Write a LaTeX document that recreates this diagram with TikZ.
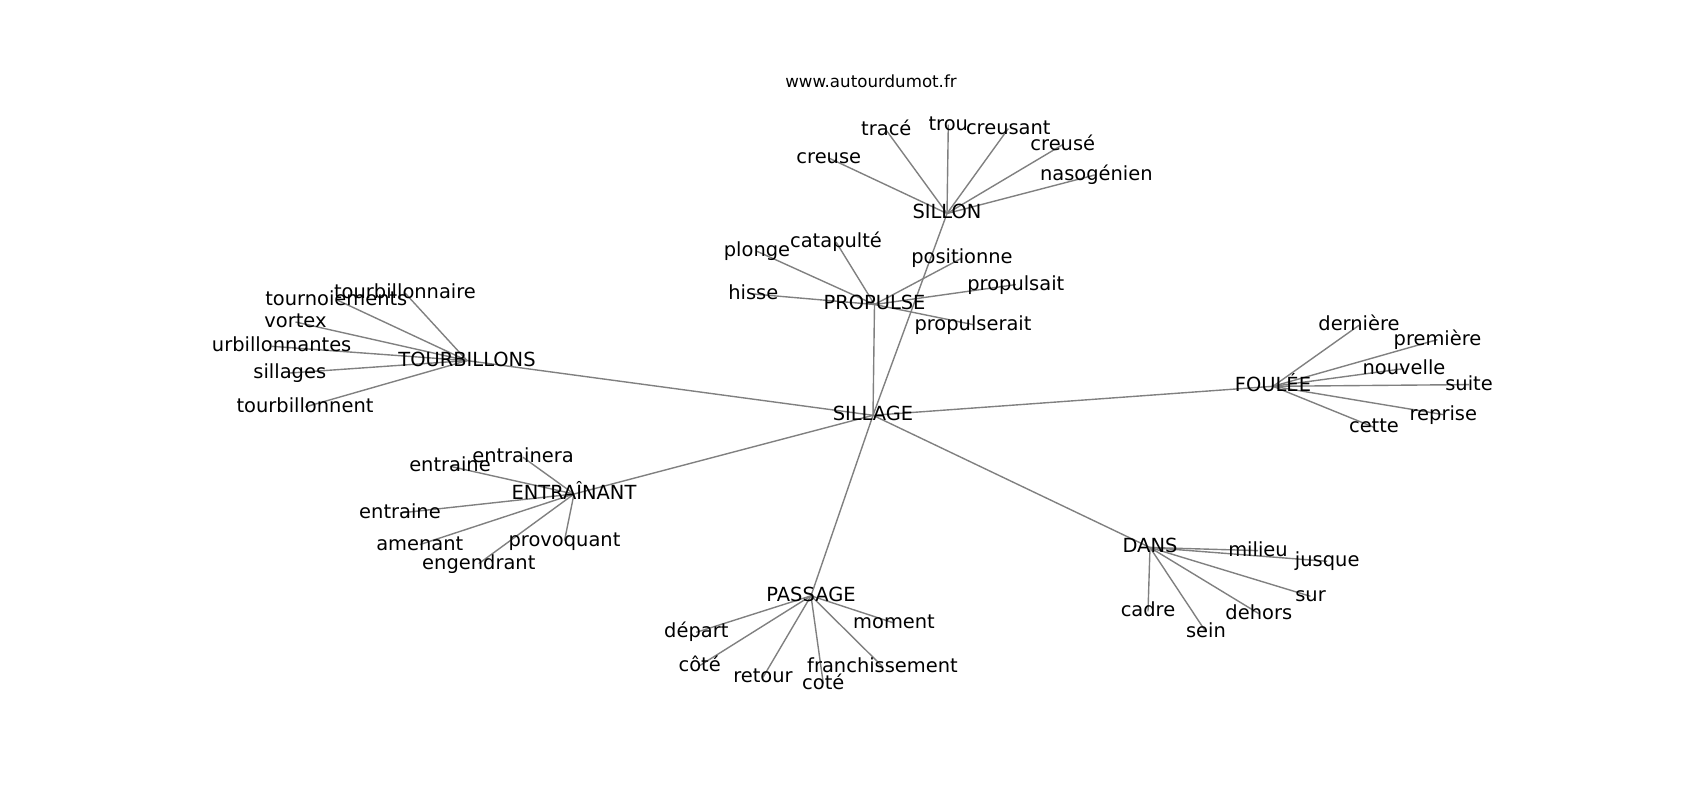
\documentclass[tikz,border=0pt]{standalone}
\usepackage{fontspec}
\setmainfont{DejaVu Sans}
\begin{document}
\begin{tikzpicture}[x=0.72pt,y=-0.72pt,
  edge/.style={draw=black!50, line width=1pt},
  lbl/.style={anchor=base, inner sep=0pt, yshift=-3.9pt, font=\fontsize{14}{16}\selectfont},
  lblw/.style={lbl, anchor=base west},
  ttl/.style={anchor=base, inner sep=0pt, font=\fontsize{12}{14}\selectfont}]
\useasboundingbox (0,0) rectangle (1700,800);
\fill[white] (0,0) rectangle (1700,800);
% hubs
\coordinate (sillage) at (873,415.3);
\coordinate (tourb) at (467,360.6);
\coordinate (entr) at (574,494);
\coordinate (passage) at (811,595.8);
\coordinate (dans) at (1150,547.5);
\coordinate (foulee) at (1273,386.3);
\coordinate (propulse) at (874.5,304.5);
\coordinate (sillon) at (947,213.5);
% tourbillons leaves
\coordinate (t1) at (405,293);
\coordinate (t2) at (336.3,299.6);
\coordinate (t3) at (295.5,322);
\coordinate (t4) at (271.6,346.3);
\coordinate (t5) at (289.8,373);
\coordinate (t6) at (305,407);
% entrainant leaves
\coordinate (e1) at (523,457.3);
\coordinate (e2) at (450,466.3);
\coordinate (e3) at (400,513);
\coordinate (e4) at (419.8,544.6);
\coordinate (e5) at (478.8,563.6);
\coordinate (e6) at (564.5,540.6);
% passage leaves
\coordinate (p1) at (696.3,632.3);
\coordinate (p2) at (699.7,665.6);
\coordinate (p3) at (763,677.3);
\coordinate (p4) at (823.3,683.6);
\coordinate (p5) at (882.5,666.6);
\coordinate (p6) at (894,623);
% dans leaves
\coordinate (d1) at (1258,550.6);
\coordinate (d2) at (1327.2,561.3);
\coordinate (d3) at (1310.5,596.3);
\coordinate (d4) at (1148,611.3);
\coordinate (d5) at (1258.8,613.6);
\coordinate (d6) at (1206,632);
% foulee leaves
\coordinate (f1) at (1359,325.3);
\coordinate (f2) at (1437.5,339.6);
\coordinate (f3) at (1404,368.6);
\coordinate (f4) at (1469,384.6);
\coordinate (f5) at (1443.3,414.6);
\coordinate (f6) at (1374,427.3);
% propulse leaves
\coordinate (q1) at (757,251.3);
\coordinate (q2) at (836,242);
\coordinate (q3) at (962,258);
\coordinate (q4) at (1015.8,284.6);
\coordinate (q5) at (753.3,294);
\coordinate (q6) at (973,324.6);
% sillon leaves
\coordinate (s1) at (828.8,158);
\coordinate (s2) at (886.3,130.3);
\coordinate (s3) at (948.3,124.6);
\coordinate (s4) at (1008.3,128.6);
\coordinate (s5) at (1062.8,144.6);
\coordinate (s6) at (1096.3,174.6);
% edges
\foreach \h in {tourb,entr,passage,dans,foulee,propulse,sillon}
  \draw[edge] (sillage) -- (\h);
\foreach \n in {t1,t2,t3,t4,t5,t6} \draw[edge] (tourb) -- (\n);
\foreach \n in {e1,e2,e3,e4,e5,e6} \draw[edge] (entr) -- (\n);
\foreach \n in {p1,p2,p3,p4,p5,p6} \draw[edge] (passage) -- (\n);
\foreach \n in {d1,d2,d3,d4,d5,d6} \draw[edge] (dans) -- (\n);
\foreach \n in {f1,f2,f3,f4,f5,f6} \draw[edge] (foulee) -- (\n);
\foreach \n in {q1,q2,q3,q4,q5,q6} \draw[edge] (propulse) -- (\n);
\foreach \n in {s1,s2,s3,s4,s5,s6} \draw[edge] (sillon) -- (\n);
% labels
\node[ttl] (title) at (871,87.7) {www.autourdumot.fr};
\node[lbl] (Lsillage) at (sillage) {SILLAGE};
\node[lbl] (Ltourb) at (tourb) {TOURBILLONS};
\node[lbl] (Lentr) at (entr) {ENTRAÎNANT};
\node[lbl] (Lpassage) at (passage) {PASSAGE};
\node[lbl] (Ldans) at (dans) {DANS};
\node[lbl] (Lfoulee) at (foulee) {FOULÉE};
\node[lbl] (Lpropulse) at (propulse) {PROPULSE};
\node[lbl] (Lsillon) at (sillon) {SILLON};
\node[lbl] (Lt1) at (t1) {tourbillonnaire};
\node[lbl] (Lt2) at (t2) {tournoiements};
\node[lbl] (Lt3) at (t3) {vortex};
\node[lblw] (Lt4) at (211.7,346.3) {urbillonnantes};
\node[lbl] (Lt5) at (t5) {sillages};
\node[lbl] (Lt6) at (t6) {tourbillonnent};
\node[lbl] (Le1) at (e1) {entrainera};
\node[lbl] (Le2) at (e2) {entraine};
\node[lbl] (Le3) at (e3) {entraine};
\node[lbl] (Le4) at (e4) {amenant};
\node[lbl] (Le5) at (e5) {engendrant};
\node[lbl] (Le6) at (e6) {provoquant};
\node[lbl] (Lp1) at (p1) {départ};
\node[lbl] (Lp2) at (p2) {côté};
\node[lbl] (Lp3) at (p3) {retour};
\node[lbl] (Lp4) at (p4) {coté};
\node[lbl] (Lp5) at (p5) {franchissement};
\node[lbl] (Lp6) at (p6) {moment};
\node[lbl] (Ld1) at (d1) {milieu};
\node[lbl] (Ld2) at (d2) {jusque};
\node[lbl] (Ld3) at (d3) {sur};
\node[lbl] (Ld4) at (d4) {cadre};
\node[lbl] (Ld5) at (d5) {dehors};
\node[lbl] (Ld6) at (d6) {sein};
\node[lbl] (Lf1) at (f1) {dernière};
\node[lbl] (Lf2) at (f2) {première};
\node[lbl] (Lf3) at (f3) {nouvelle};
\node[lbl] (Lf4) at (f4) {suite};
\node[lbl] (Lf5) at (f5) {reprise};
\node[lbl] (Lf6) at (f6) {cette};
\node[lbl] (Lq1) at (q1) {plonge};
\node[lbl] (Lq2) at (q2) {catapulté};
\node[lbl] (Lq3) at (q3) {positionne};
\node[lbl] (Lq4) at (q4) {propulsait};
\node[lbl] (Lq5) at (q5) {hisse};
\node[lbl] (Lq6) at (q6) {propulserait};
\node[lbl] (Ls1) at (s1) {creuse};
\node[lbl] (Ls2) at (s2) {tracé};
\node[lbl] (Ls3) at (s3) {trou};
\node[lbl] (Ls4) at (s4) {creusant};
\node[lbl] (Ls5) at (s5) {creusé};
\node[lbl] (Ls6) at (s6) {nasogénien};
\end{tikzpicture}
\end{document}
